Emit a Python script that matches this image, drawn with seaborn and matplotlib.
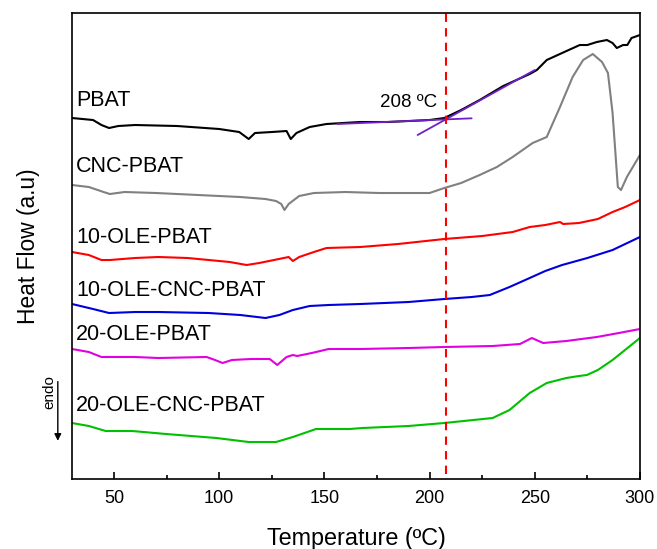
import pandas as pd
import matplotlib.pyplot as plt
import seaborn as sns

# Temperature (ºC) and heat flow (a.u., stacked offsets)
t_pbat = [30, 40, 44, 47.6, 52, 60, 80, 100, 109.5, 114, 117, 125, 132, 134, 136.7, 143, 151, 166.7,
          180, 200, 207, 215, 223.8, 235, 247.6, 251, 255.7, 263, 271.4, 275, 279.5, 284.3, 287, 289,
          292, 294, 296, 300]
hf_pbat = [361, 359, 354, 351, 353, 354, 353, 350, 347, 340, 346, 347, 348, 340, 346, 352, 355, 357,
           357, 359, 361, 369, 379, 393, 405, 409, 419, 426, 434, 434, 437, 439, 436, 431,
           434, 434, 441, 444]

t_cnc = [30, 38, 45, 48, 55, 70, 90, 110, 122, 127, 129.5, 131, 133, 138, 145, 160, 176, 200, 207,
         215, 223.8, 232, 239.5, 249, 255.7, 262, 268, 273, 277.6, 282, 284.8, 287, 289.5, 291, 293.8, 300]
hf_cnc = [294, 292, 287, 285, 287, 286, 284, 282, 280, 278, 275, 269, 275, 283, 286, 287, 286, 286, 291,
          296, 304, 312, 322, 336, 342, 372, 402, 419, 425, 417, 406, 366, 292, 289, 302, 324]

t_10ole = [30, 38, 44, 48, 60, 71, 85, 95, 105, 113, 119, 126, 133, 135, 138, 145, 151, 167, 185, 207,
           225, 239.5, 247.6, 255, 262, 263.5, 271, 280, 287, 293, 300]
hf_10ole = [227, 224, 219, 219, 221, 222, 221, 219, 217, 214, 216, 219, 222, 218, 222, 227, 231, 232, 235, 240,
            243, 247, 252, 254, 257, 255, 256, 260, 267, 272, 279]

t_10ole_cnc = [30, 40, 47.6, 60, 71, 95, 110, 122, 128.6, 135, 143, 152, 167, 190, 207, 220, 228.6, 238,
               247.6, 255, 263, 275, 287, 300]
hf_10ole_cnc = [175, 170, 166, 167, 167, 166, 164, 161, 164, 169, 173, 174, 175, 177, 180, 182, 184, 192,
                201, 208, 214, 221, 229, 242]

t_20ole = [30, 38, 44, 60, 71, 94, 98, 101.6, 106, 115, 124, 127.6, 132, 135, 137, 144, 152, 167, 190, 207,
           230, 243, 248.6, 254, 265, 279.5, 290, 300]
hf_20ole = [130, 127, 122, 122, 121, 122, 119, 116, 119, 120, 120, 114, 122, 124, 123, 126, 130, 130, 131, 132,
            133, 135, 141, 136, 138, 142, 146, 150]

t_20ole_cnc = [30, 38, 46, 58.6, 74.7, 98.6, 114, 127, 135, 146, 162, 168, 190, 207, 230, 238, 247.6, 255.7,
               265, 271, 274.8, 280, 287, 300]
hf_20ole_cnc = [56, 53, 48, 48, 45, 41, 37, 37, 42, 50, 50, 51, 53, 56, 61, 69, 86, 96,
                101, 103, 104, 109, 119, 141]

nombres = ["PBAT", "CNC-PBAT", "10-OLE-PBAT", "10-OLE-CNC-PBAT", "20-OLE-PBAT", "20-OLE-CNC-PBAT"]
label_y = [379, 313, 242, 189, 145, 74]
colores = ["#000000", "#808080", "#ff0000", "#0000dd", "#e000e0", "#00c000"]

onset_temp = 208
tangente1_t = [156.2, 220]
tangente1_hf = [355, 360.7]
tangente2_t = [194.3, 250]
tangente2_hf = [344, 409]

series = [(t_pbat, hf_pbat), (t_cnc, hf_cnc), (t_10ole, hf_10ole),
          (t_10ole_cnc, hf_10ole_cnc), (t_20ole, hf_20ole), (t_20ole_cnc, hf_20ole_cnc)]
df = pd.concat([pd.DataFrame({"T": t, "HF": hf, "muestra": n})
                for (t, hf), n in zip(series, nombres)], ignore_index=True)

sns.set_theme(style="ticks")
plt.rcParams['font.family'] = ['Liberation Sans', 'DejaVu Sans']
plt.rcParams['text.color'] = 'black'
plt.rcParams['axes.labelcolor'] = 'black'
plt.rcParams['xtick.color'] = 'black'

fig = plt.figure(figsize=(6.57, 5.49), dpi=100)
ax = fig.add_axes([0.1096, 0.1275, 0.8644, 0.8488])

sns.lineplot(data=df, x="T", y="HF", hue="muestra", palette=dict(zip(nombres, colores)),
             estimator=None, sort=False, linewidth=1.5, legend=False, ax=ax)

# tangentes para el onset
ax.plot(tangente1_t, tangente1_hf, color="#7020c8", linewidth=1.3)
ax.plot(tangente2_t, tangente2_hf, color="#7020c8", linewidth=1.3)
ax.axvline(onset_temp, ymin=0.01, ymax=1, color="#ff0000", linestyle=(0, (4, 3)), linewidth=1.5)
ax.text(203.5, 377, "208 ºC", ha="right", va="center", fontsize=13.5)

for n, y in zip(nombres, label_y):
    ax.text(32, y, n, ha="left", va="center", fontsize=15.5)

ax.set_xlim(30, 300)
ax.set_ylim(0, 466)
ax.set_xticks([50, 100, 150, 200, 250, 300])
ax.set_xticks([75, 125, 175, 225, 275], minor=True)
ax.set_yticks([])
ax.tick_params(axis="x", direction="in", length=5, width=1.2, labelsize=13, pad=8)
ax.tick_params(axis="x", which="minor", direction="in", length=3, width=1.2)
for s in ax.spines.values():
    s.set_linewidth(1.2)
    s.set_color("black")

ax.set_xlabel("Temperature (ºC)", fontsize=16.8, labelpad=14)
ax.set_ylabel("Heat Flow (a.u)", fontsize=16.4, labelpad=23)

# flecha endo
fig.text(0.0745, 0.285, "endo", rotation=90, ha="center", va="center", fontsize=11)
ax.annotate("", xy=(0.088, 0.192), xytext=(0.088, 0.31), xycoords="figure fraction",
            textcoords="figure fraction",
            arrowprops=dict(arrowstyle="-|>", color="black", lw=1, mutation_scale=10))

plt.savefig("out.png", dpi=100)
